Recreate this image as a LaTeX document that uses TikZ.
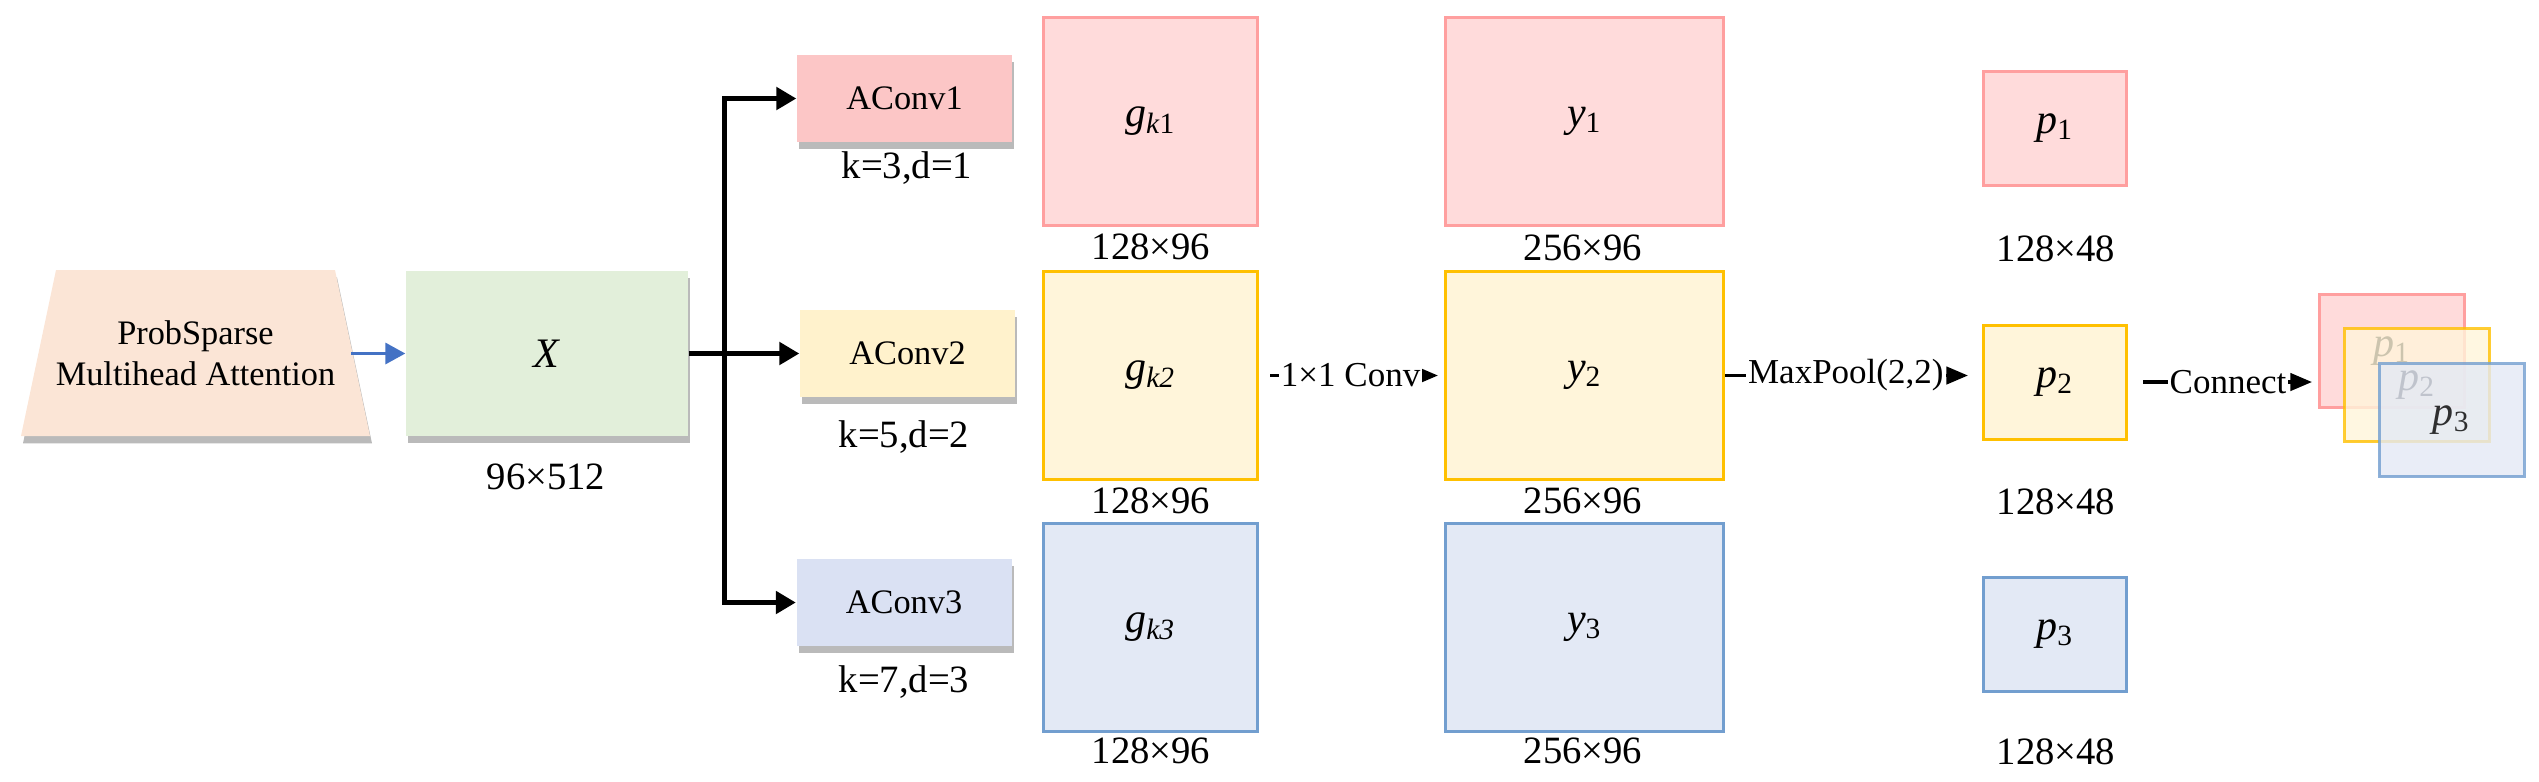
\documentclass[tikz,border=0pt]{standalone}
\usepackage{fontspec}
\setmainfont{Liberation Serif}
\usetikzlibrary{arrows.meta}
\usetikzlibrary{shadows}

\definecolor{attnfill}{HTML}{FBE5D6}
\definecolor{xfill}{HTML}{E2EFDA}
\definecolor{aconvred}{HTML}{FCC6C6}
\definecolor{aconvyel}{HTML}{FFF2CC}
\definecolor{aconvblu}{HTML}{DAE1F3}
\definecolor{redfill}{HTML}{FFDBDB}
\definecolor{redline}{HTML}{FF9F9F}
\definecolor{yelfill}{HTML}{FFF5DA}
\definecolor{yelline}{HTML}{FFC000}
\definecolor{blufill}{HTML}{E3E9F5}
\definecolor{bluline}{HTML}{729ECF}
\definecolor{feedblue}{HTML}{4472C4}

\newcommand{\vsub}[2]{\textit{#1}\textsubscript{#2}}

\tikzset{
  shade box/.style={drop shadow={shadow xshift=0.6pt,shadow yshift=-2.2pt,opacity=0.45,fill=black!60}},
  conv box/.style={shade box,rectangle,minimum width=64.5pt,minimum height=26.1pt,inner sep=0pt,font=\fontsize{10.3}{12}\selectfont},
  map box/.style={rectangle,line width=0.9pt,inner sep=0pt,font=\fontsize{12.6}{14}\selectfont},
  red map/.style={map box,fill=redfill,draw=redline},
  yel map/.style={map box,fill=yelfill,draw=yelline},
  blu map/.style={map box,fill=blufill,draw=bluline},
  size lbl/.style={inner sep=0pt,font=\fontsize{11.6}{13}\selectfont},
  brancharrow/.style={line width=1.5pt,-{Triangle[length=6pt,width=6.6pt]}},
  feedarrow/.style={draw=feedblue,line width=1pt,-{Triangle[length=6pt,width=6.3pt]}},
  flowarrow/.style={line width=1pt,-{Triangle[length=6.5pt,width=5.2pt]}},
  flow lbl/.style={fill=white,inner sep=0.6pt,font=\fontsize{10.5}{12}\selectfont},
}

\begin{document}
\begin{tikzpicture}[x=0.3pt,y=0.3pt,yscale=-1,xscale=1]
\useasboundingbox (0,0) rectangle (2539,781);

%Shape: Trapezoid
\fill[shade box,attnfill] (56,270) -- (335,270) -- (370,436) -- (21,436) -- cycle;
% Text Node
\node[align=center,inner sep=0pt,font=\fontsize{10.3}{12.3}\selectfont] (attn) at (195.5,353) {ProbSparse\\Multihead Attention};
\coordinate (attnout) at (351,353.5);
%Shape: Rectangle
\node[shade box,fill=xfill,minimum width=84.6pt,minimum height=49.5pt,font=\fontsize{12.6}{14}\selectfont] (X) at (547,353.5) {\textit{X}};
% Text Node
\node[size lbl] (Xsz) at (546,477) {96×512};

%Shape: Rectangle
\node[conv box,fill=aconvred] (a1) at (904.5,98.5) {AConv1};
\node[conv box,fill=aconvyel] (a2) at (907.5,353.5) {AConv2};
\node[conv box,fill=aconvblu] (a3) at (904,602.5) {AConv3};
% Text Node
\node[size lbl] (a1k) at (907,168) {k=3,d=1};
\node[size lbl] (a2k) at (904,437) {k=5,d=2};
\node[size lbl] (a3k) at (904,682) {k=7,d=3};

%Shape: Square
\node[red map,minimum width=64.2pt,minimum height=62.4pt] (g1) at (1150.5,121.5) {\vsub{g}{\textit{k}1}};
\node[yel map,minimum width=64.2pt,minimum height=62.4pt] (g2) at (1150.5,375.5) {\vsub{g}{\textit{k2}}};
\node[blu map,minimum width=64.2pt,minimum height=62.4pt] (g3) at (1150.5,627.5) {\vsub{g}{\textit{k3}}};
% Text Node
\node[size lbl] (g1sz) at (1151,247) {128×96};
\node[size lbl] (g2sz) at (1151,501) {128×96};
\node[size lbl] (g3sz) at (1151,751) {128×96};

%Shape: Rectangle
\node[red map,minimum width=83.4pt,minimum height=62.4pt] (y1) at (1584.5,121.5) {\vsub{y}{1}};
\node[yel map,minimum width=83.4pt,minimum height=62.4pt] (y2) at (1584.5,375.5) {\vsub{y}{2}};
\node[blu map,minimum width=83.4pt,minimum height=62.4pt] (y3) at (1584.5,627.5) {\vsub{y}{3}};
% Text Node
\node[size lbl] (y1sz) at (1583,248) {256×96};
\node[size lbl] (y2sz) at (1583,501) {256×96};
\node[size lbl] (y3sz) at (1583,751) {256×96};

%Shape: Rectangle
\node[red map,minimum width=42.9pt,minimum height=34.2pt] (p1) at (2055,128.5) {\vsub{p}{1}};
\node[yel map,minimum width=42.9pt,minimum height=34.2pt] (p2) at (2055,382) {\vsub{p}{2}};
\node[blu map,minimum width=42.9pt,minimum height=34.2pt] (p3) at (2055,634.5) {\vsub{p}{3}};
% Text Node
\node[size lbl] (p1sz) at (2056,249) {128×48};
\node[size lbl] (p2sz) at (2056,502) {128×48};
\node[size lbl] (p3sz) at (2056,752) {128×48};

%Shape: Rectangle (stacked)
\node[red map,minimum width=43.5pt,minimum height=33.9pt] (s1) at (2392,351) {\vsub{p}{1}};
\node[yel map,minimum width=43.5pt,minimum height=33.9pt,opacity=0.8] (s2) at (2417,385) {\vsub{p}{2}};
\node[blu map,minimum width=43.5pt,minimum height=33.9pt,opacity=0.8] (s3) at (2451.5,420) {\vsub{p}{3}};

% Connection
\coordinate (split) at (724,353.5);
\draw[feedarrow] (attnout) -- (X);
\draw[brancharrow] (X.east) -- (a2.west);
\draw[brancharrow] (split) |- (a1.west);
\draw[brancharrow] (split) |- (a3.west);
\draw[flowarrow,shorten <=3.3pt,shorten >=1.8pt] (g2) -- node[flow lbl,pos=0.495] (convlbl) {1×1 Conv} (y2);
\draw[flowarrow,shorten >=4.2pt] (y2.east) -- node[flow lbl,pos=0.47] (poollbl) {MaxPool(2,2)} (y2.east -| p2.west);
\draw[flowarrow,shorten <=4.5pt,shorten >=1.8pt] (p2.east) -- node[flow lbl,pos=0.526] (catlbl) {Connect} (p2.east -| s1.west);

\end{tikzpicture}
\end{document}
